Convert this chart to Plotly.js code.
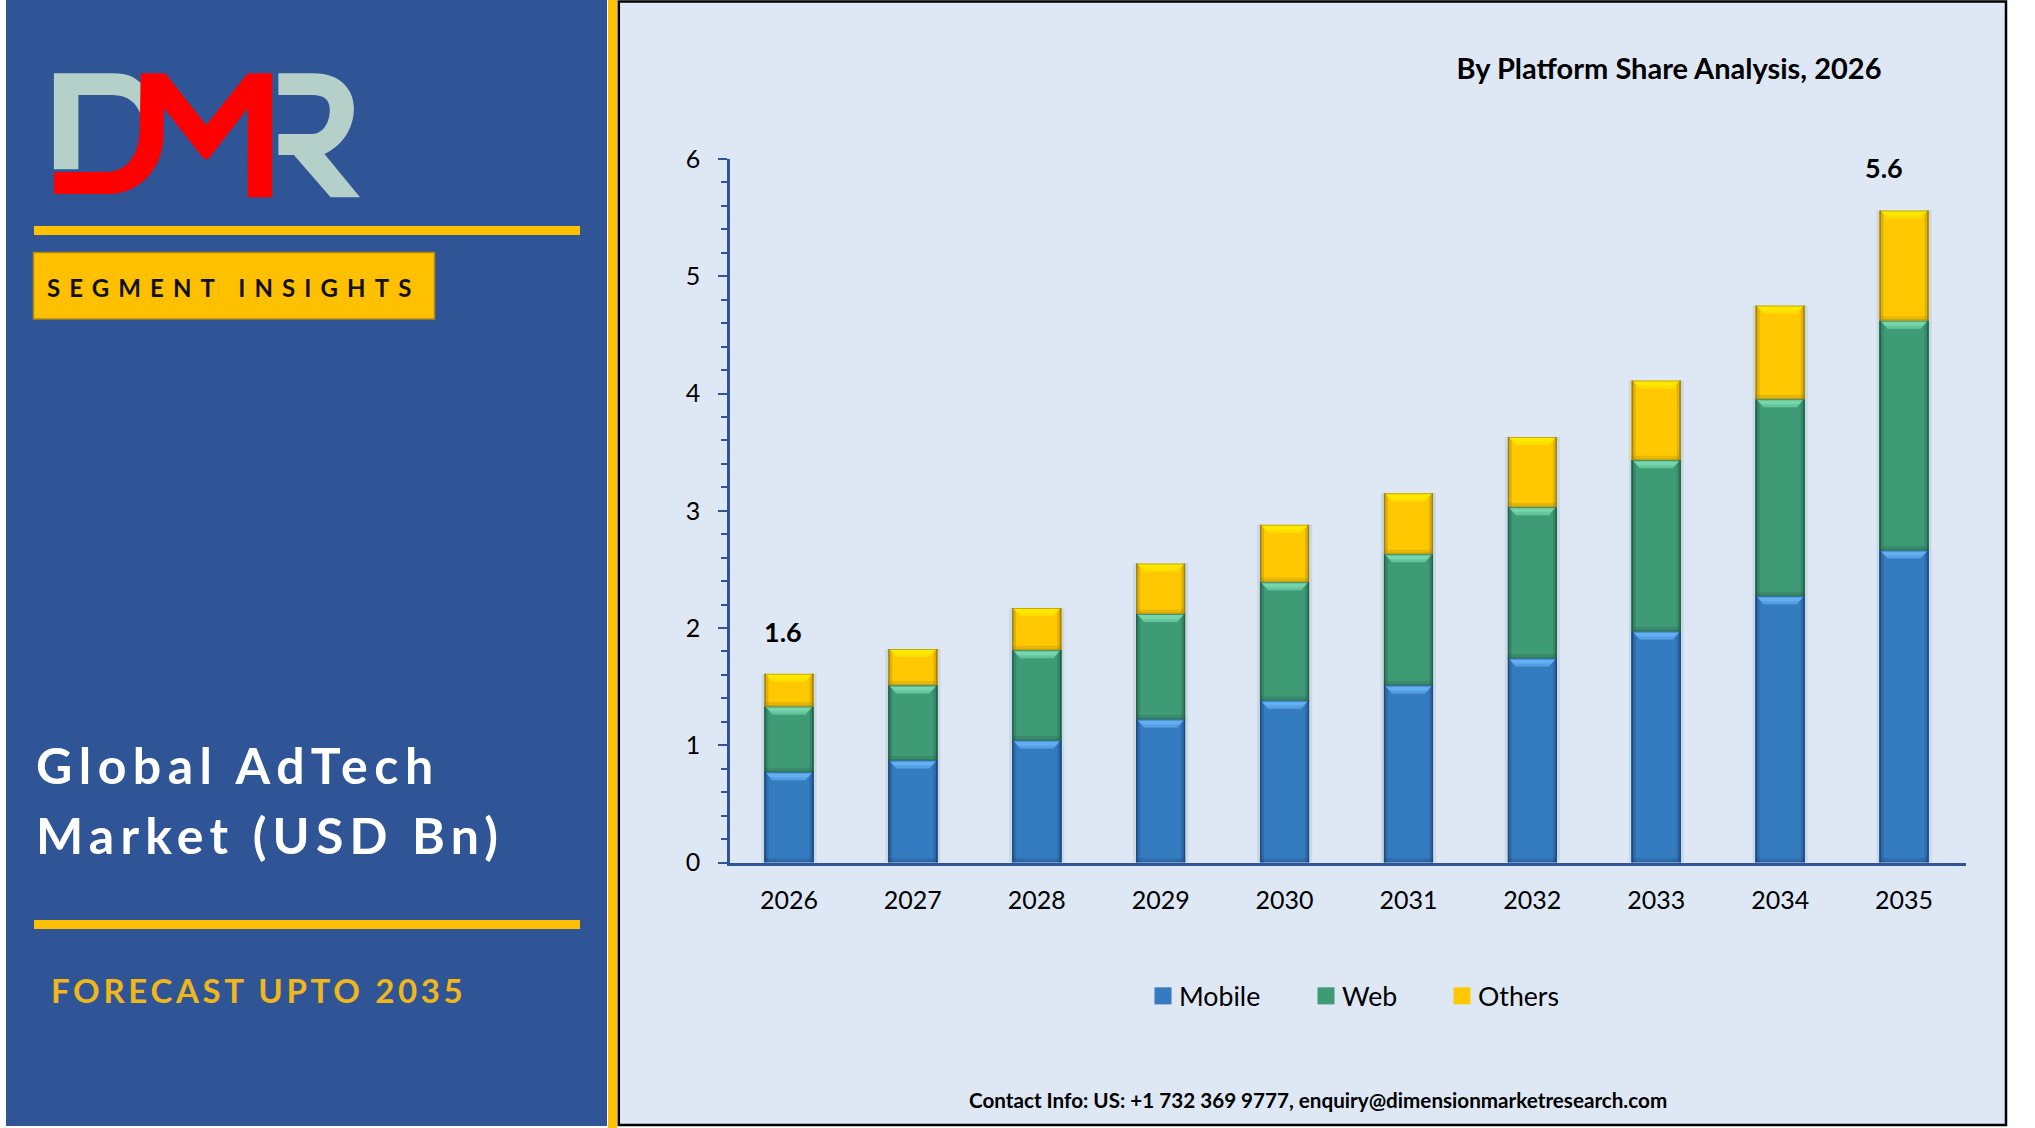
<!DOCTYPE html>
<html><head><meta charset="utf-8">
<script src="https://cdn.plot.ly/plotly-3.0.1.min.js"></script>
<style>
html,body{margin:0;padding:0;background:#fff;overflow:hidden}
#chart{width:2035px;height:1128px}
.legendpoints path{transform:translate(24px,0) scale(1.42);}
</style></head><body><div id="chart"></div>
<script>
const years=[2026,2027,2028,2029,2030,2031,2032,2033,2034,2035];
const mobile=[0.77,0.87,1.04,1.22,1.38,1.51,1.74,1.97,2.27,2.66];
const web=[0.56,0.64,0.77,0.90,1.01,1.12,1.29,1.46,1.68,1.96];
const others=[0.28,0.31,0.36,0.43,0.49,0.52,0.60,0.68,0.80,0.94];
const totalLabels=["1.6","","","","","","","","","5.6"];
const seriesNames=["Mobile","Web","Others"];
const seriesColors=["#357BBF","#3F9A76","#FFC800"];
const bevelTop=["#62B0F2","#74D6AA","#FFE800"];
const bevelEdge=["#1C4475","#1F5A43","#8F7A1A"];

const W=2035,H=1128;
const FONT="Lato, 'Open Sans', sans-serif";
const px=x=>x/W, py=y=>1-y/H;
const rect=(x0,y0,x1,y1,fill,line,lw)=>({type:'rect',xref:'paper',yref:'paper',layer:'below',
  x0:px(x0),x1:px(x1),y0:py(y0),y1:py(y1),fillcolor:fill,line:{color:line||fill,width:lw||0}});
// logo outlines are measured on a crop (x/2.45, y/3)
const logoPath=(cmds)=>cmds.replace(/(-?\d+(?:\.\d+)?),(-?\d+(?:\.\d+)?)/g,
  (m,a,b)=>px(a/2.45).toFixed(5)+','+py(b/3).toFixed(5));
const logoShape=(d,fill)=>({type:'path',xref:'paper',yref:'paper',layer:'below',path:logoPath(d),fillcolor:fill,line:{width:0}});

const shapes=[
  rect(6,0,607,1126,'#2F5597'),
  rect(608,0,617,1128,'#FFC000'),
  rect(618.8,1.5,2006,1125,'#DEE8F5','#000000',2.5),
  rect(34,226,580,235,'#FFC000'),
  rect(34,920,580,929,'#FFC000'),
  rect(33.5,252.5,434.5,319,'#FFC000','#B08A10',1.5),
  logoShape('M132,220 L280,220 C310,220 330,230 345,250 L345,345 C335,310 315,285 275,285 L192,285 L192,508 L132,508 Z','#B5D0C8'),
  logoShape('M682,220 L770,220 C830,220 867,265 867,325 C867,390 835,440 795,462 L882,592 L810,592 L720,465 L682,465 L682,402 L765,402 C790,402 808,370 808,330 C808,300 795,285 765,285 L682,285 Z','#B5D0C8'),
  logoShape('M132,517 L270,515 C310,510 338,470 342,400 L345,220 L405,220 L505,375 L607,220 L667,220 L667,592 L607,592 L607,325 L515,470 Q505,485 495,470 L402,325 L400,420 C395,510 340,580 270,582 L132,582 Z','#FF0000')
];

// bevel details anchored on the data through the axis scales
const hw=24.6, bev=8, pxPerUnit=117.25;
const arrays=[mobile,web,others];
const box=(x0,y0,x1,y1)=>`M${x0},${y0} L${x1},${y0} L${x1},${y1} L${x0},${y1} Z`;
years.forEach((yr,i)=>{
  const total=mobile[i]+web[i]+others[i];
  const totalH=total*pxPerUnit;
  const base0={xref:'x',yref:'y',xsizemode:'pixel',ysizemode:'pixel',xanchor:yr,type:'path',line:{width:0}};
  // faint cast shadow either side of the column
  shapes.push({...base0,layer:'below',yanchor:total,path:box(-hw-3,0,-hw,-totalH),fillcolor:'#7F8FA6',opacity:0.18});
  shapes.push({...base0,layer:'below',yanchor:total,path:box(hw,0,hw+3,-totalH),fillcolor:'#7F8FA6',opacity:0.18});
  let base=0;
  arrays.forEach((arr,s)=>{
    const top=base+arr[i];
    const h=arr[i]*pxPerUnit;
    const anch={...base0,layer:'above',yanchor:top};
    const edge=bevelEdge[s];
    // soft inner edge, then the crisp outer edge
    shapes.push({...anch,path:box(-hw,0,-hw+4,-h),fillcolor:edge,opacity:0.28});
    shapes.push({...anch,path:box(hw-4,0,hw,-h),fillcolor:edge,opacity:0.28});
    shapes.push({...anch,path:box(-hw,-h+4.5,hw,-h),fillcolor:edge,opacity:0.22});
    shapes.push({...anch,path:box(-hw,-h+1.5,hw,-h),fillcolor:edge,opacity:0.35});
    shapes.push({...anch,path:box(-hw,0,-hw+1.5,-h),fillcolor:edge,opacity:0.85});
    shapes.push({...anch,path:box(hw-1.5,0,hw,-h),fillcolor:edge,opacity:0.85});
    // lit top bevel
    shapes.push({...anch,path:`M${-hw+1},0 L${hw-1},0 L${hw-bev},${-bev} L${-hw+bev},${-bev} Z`,fillcolor:bevelTop[s]});
    shapes.push({...anch,path:`M${-hw+5},-5 L${hw-5},-5 L${hw-bev},${-bev} L${-hw+bev},${-bev} Z`,fillcolor:seriesColors[s],opacity:0.3});
    shapes.push({...anch,path:box(-hw,0,hw,-1),fillcolor:edge,opacity:0.55});
    base=top;
  });
});

const traces=arrays.map((arr,s)=>({
  type:'bar',x:years,y:arr,name:seriesNames[s],
  marker:{color:seriesColors[s],line:{width:0}},
  legend:s===0?'legend':'legend'+(s+1),hoverinfo:'x+y+name'
}));

const totals=years.map((_,i)=>mobile[i]+web[i]+others[i]);
const sp=(t,ls)=>`<span style="letter-spacing:${ls}px">${t}</span>`;
const pageNote=(x,y,text,size,color,bold)=>({xref:'paper',yref:'paper',x:px(x),y:py(y),xanchor:'left',yanchor:'middle',
  showarrow:false,text,font:{family:FONT,size,color,weight:bold?700:400}});
const annotations=[
  pageNote(34,765,sp('Global AdTech',6.5),50,'#FFFFFF',true),
  pageNote(34,835,sp('Market (USD Bn)',6.2),50,'#FFFFFF',true),
  pageNote(49,990,sp('FORECAST UPTO 2035',3.65),33,'#F0B71A',true),
  pageNote(45,288,sp('SEGMENT INSIGHTS',9.1),24,'#111111',true),
  {xref:'paper',yref:'paper',x:px(1318),y:py(1100),xanchor:'center',yanchor:'middle',showarrow:false,
   text:'Contact Info: US: +1 732 369 9777, enquiry@dimensionmarketresearch.com',
   font:{family:FONT,size:20.65,color:'#000000',weight:700}}
];
[[0,-6,42],[9,-20,43]].forEach(([i,dx,dy])=>annotations.push({xref:'x',yref:'y',x:years[i],y:totals[i],xshift:dx,yshift:dy,
  xanchor:'center',yanchor:'middle',showarrow:false,text:totalLabels[i],font:{family:FONT,size:27,color:'#000000',weight:700}}));

const legendBase={orientation:'h',xanchor:'left',yanchor:'middle',y:py(996),bgcolor:'rgba(0,0,0,0)',
  font:{family:FONT,size:26.7,color:'#000000'},borderwidth:0};
const axisColor='#2F5597';
const layout={
  width:W,height:H,margin:{l:0,r:0,t:0,b:0,pad:0},paper_bgcolor:'#FFFFFF',plot_bgcolor:'rgba(0,0,0,0)',
  barmode:'stack',bargap:0.6,showlegend:true,
  title:{text:'By Platform Share Analysis, 2026',x:px(1669),y:py(69),xref:'paper',yref:'paper',xanchor:'center',yanchor:'middle',
    font:{family:FONT,size:29,color:'#000000',weight:700}},
  xaxis:{domain:[px(727),px(1966)],range:[2025.5,2035.5],tickmode:'array',tickvals:years,ticktext:years.map(String),
    ticks:'',showgrid:false,zeroline:false,showline:true,linecolor:axisColor,linewidth:2.5,
    tickfont:{family:FONT,size:25,color:'#000000'},ticklabelstandoff:14},
  yaxis:{domain:[py(862.5),py(159)],range:[0,6],anchor:'free',position:px(728),tick0:0,dtick:1,ticks:'outside',ticklen:9,tickwidth:2,tickcolor:axisColor,
    minor:{dtick:0.2,ticks:'outside',ticklen:6,tickwidth:2,tickcolor:axisColor},
    showgrid:false,zeroline:false,showline:true,linecolor:axisColor,linewidth:2.5,
    tickfont:{family:FONT,size:25,color:'#000000'},ticklabelstandoff:13},
  legend:{...legendBase,x:px(1139)},
  legend2:{...legendBase,x:px(1302)},
  legend3:{...legendBase,x:px(1438)},
  shapes,annotations
};
Plotly.newPlot('chart',traces,layout,{displayModeBar:false,responsive:false});
</script></body></html>
